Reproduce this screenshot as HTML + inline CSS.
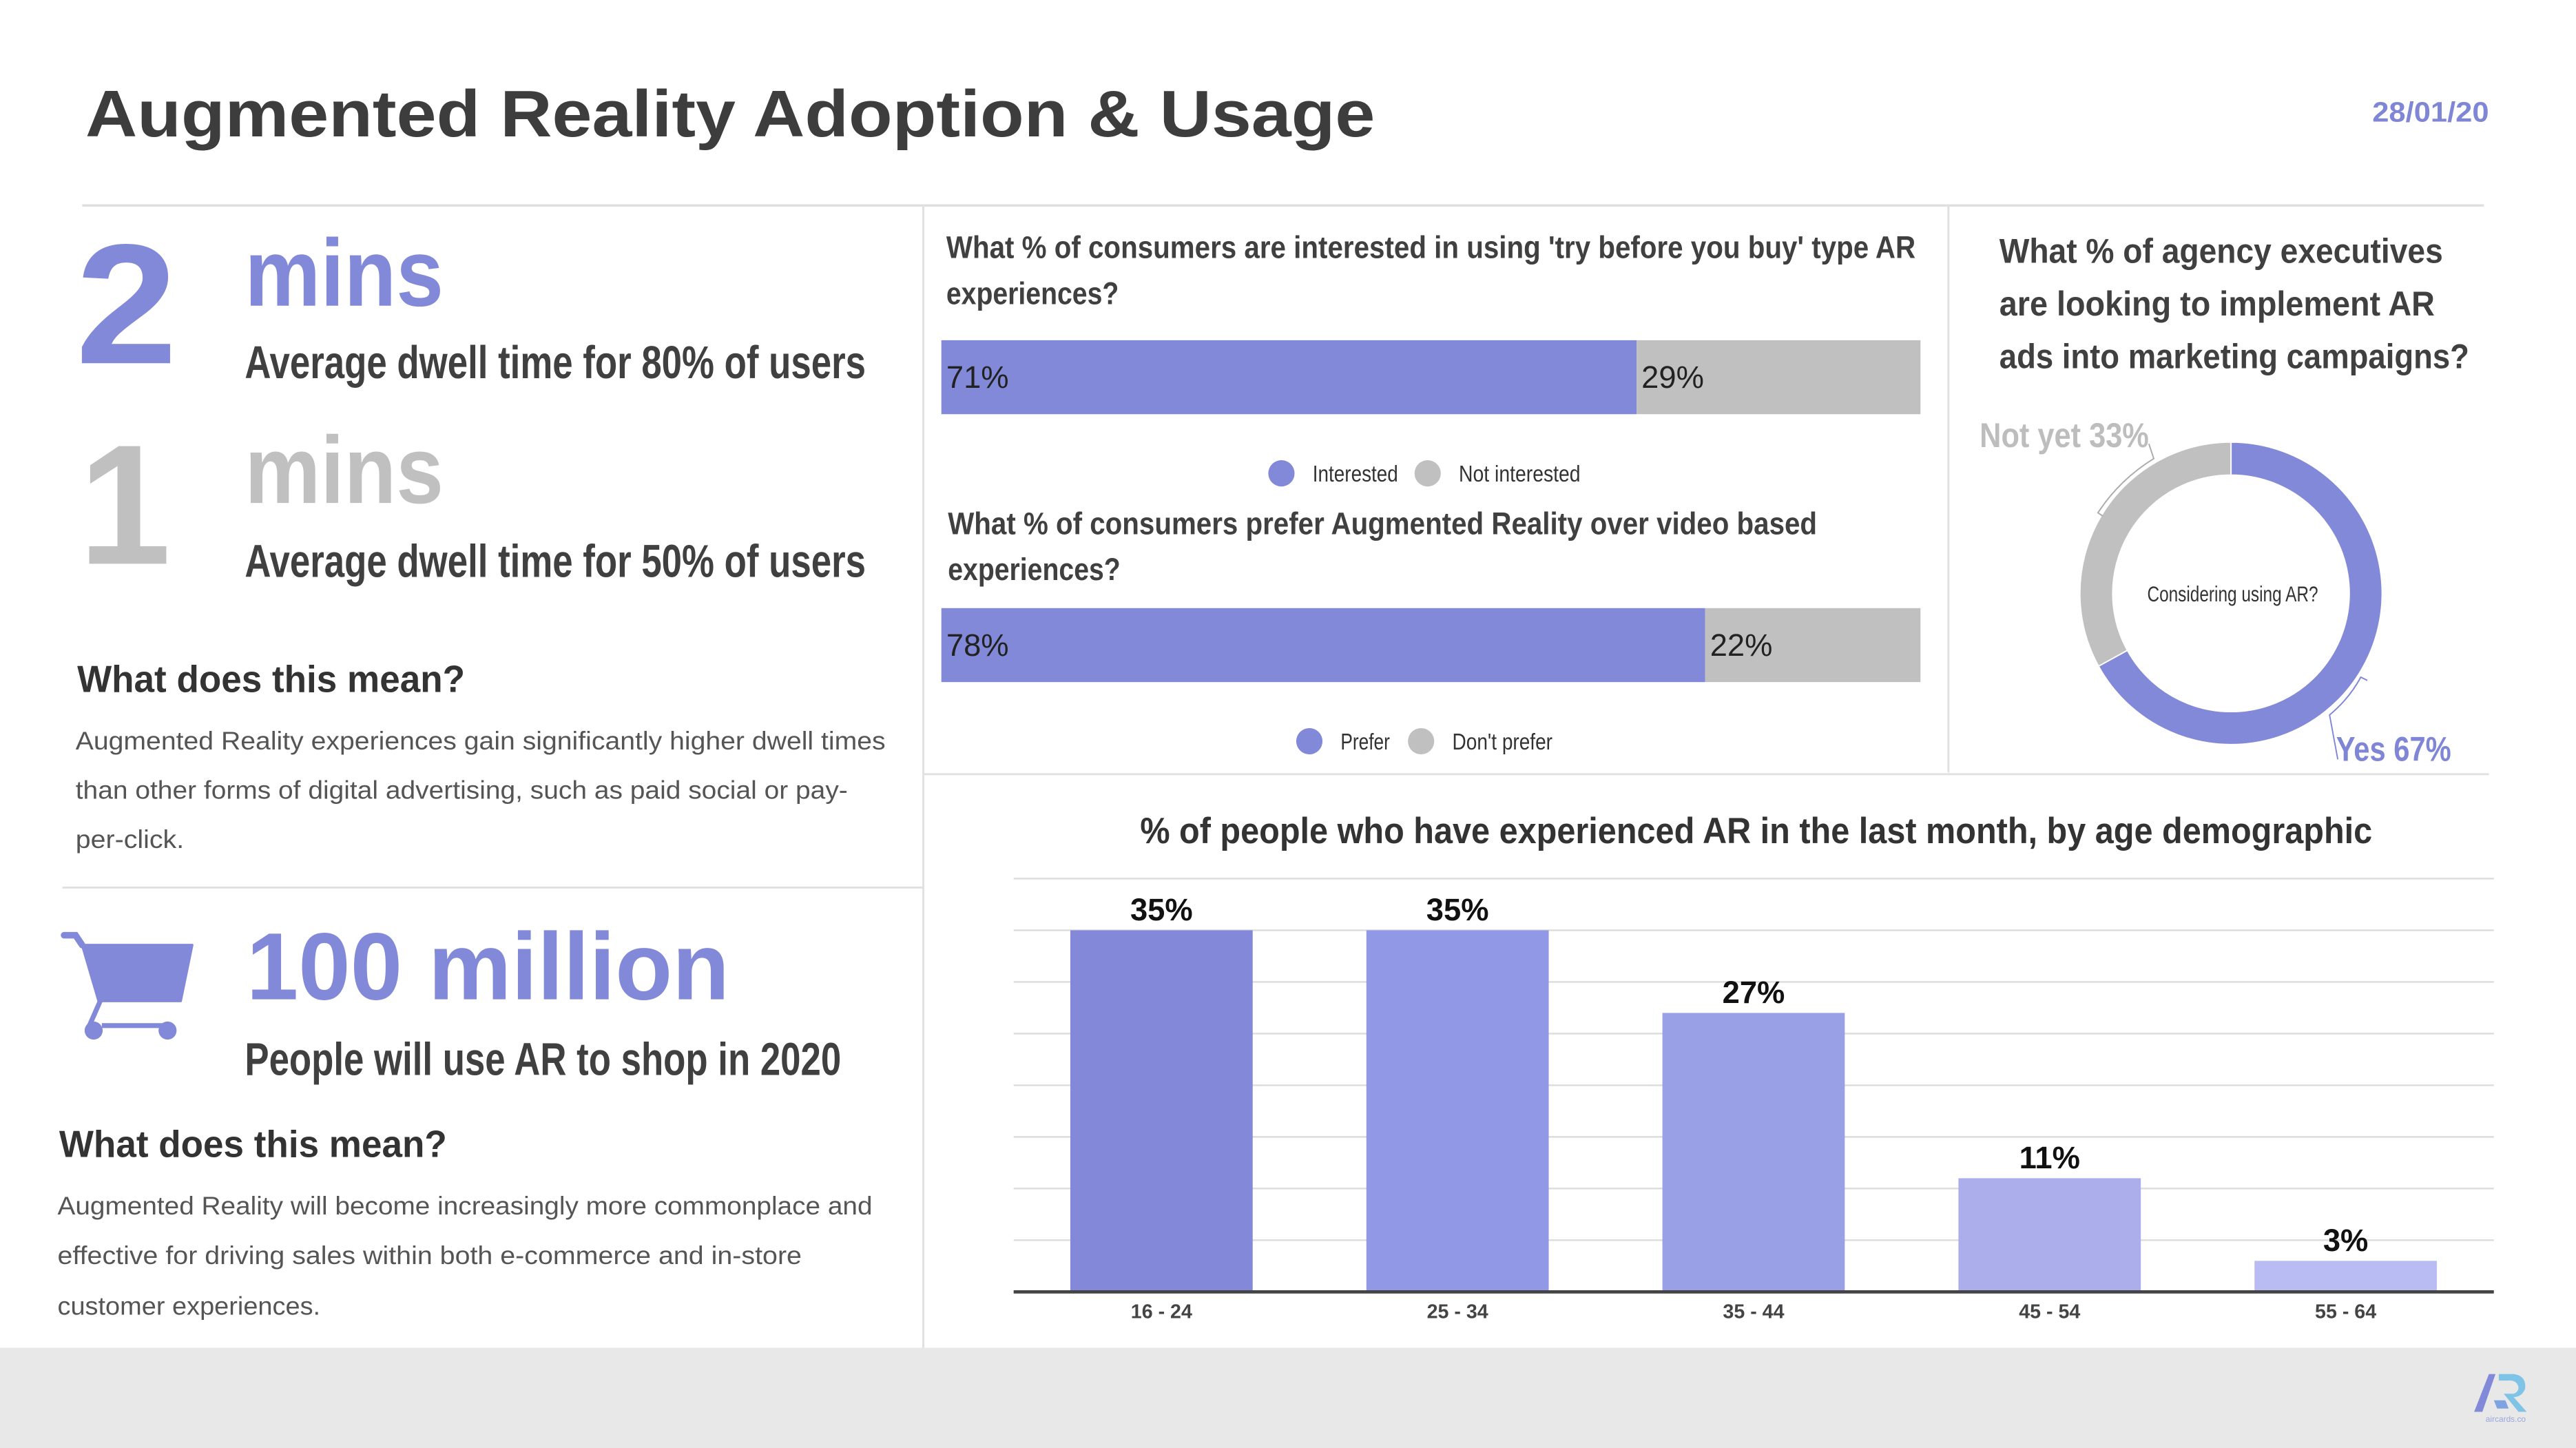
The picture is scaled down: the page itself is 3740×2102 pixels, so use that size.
<!DOCTYPE html>
<html><head><meta charset="utf-8"><style>
html,body{margin:0;padding:0;background:#fff;}
svg{display:block;}
text{font-family:"Liberation Sans Narrow","Liberation Sans",sans-serif;}
</style></head><body>
<svg id="root" width="3740" height="2102" viewBox="0 0 1568 881" preserveAspectRatio="none" xmlns="http://www.w3.org/2000/svg">
<rect x="0" y="0" width="1568" height="881" fill="#fff"/>
<text x="52" y="83" font-size="40" font-weight="bold" fill="#3d3d3d" textLength="785" lengthAdjust="spacingAndGlyphs" style="font-family:'Liberation Sans',sans-serif">Augmented Reality Adoption &amp; Usage</text>
<text x="1444" y="74" font-size="17" font-weight="bold" fill="#7f86d6" textLength="71" lengthAdjust="spacingAndGlyphs" style="font-family:'Liberation Sans',sans-serif">28/01/20</text>
<line x1="50" y1="125" x2="1512" y2="125" stroke="#e0e0e0" stroke-width="1.5"/>
<line x1="562" y1="125" x2="562" y2="820" stroke="#e0e0e0" stroke-width="1.2"/>
<line x1="1186" y1="125" x2="1186" y2="470" stroke="#e0e0e0" stroke-width="1.2"/>
<line x1="562" y1="471" x2="1515" y2="471" stroke="#e0e0e0" stroke-width="1.2"/>
<line x1="38" y1="540" x2="562" y2="540" stroke="#e0e0e0" stroke-width="1.2"/>

<!-- stat 1 -->
<text x="46" y="221" font-size="104" font-weight="bold" fill="#8289d9" textLength="62" lengthAdjust="spacingAndGlyphs">2</text>
<text x="149" y="186" font-size="58" font-weight="bold" fill="#8289d9" textLength="121" lengthAdjust="spacingAndGlyphs">mins</text>
<text x="149" y="230" font-size="28" font-weight="bold" fill="#404040" textLength="378" lengthAdjust="spacingAndGlyphs">Average dwell time for 80% of users</text>
<text x="48" y="343" font-size="104" font-weight="bold" fill="#c0c0c0" textLength="56" lengthAdjust="spacingAndGlyphs">1</text>
<text x="149" y="306" font-size="58" font-weight="bold" fill="#c0c0c0" textLength="121" lengthAdjust="spacingAndGlyphs">mins</text>
<text x="149" y="351" font-size="28" font-weight="bold" fill="#404040" textLength="378" lengthAdjust="spacingAndGlyphs">Average dwell time for 50% of users</text>
<text x="47" y="421" font-size="23" font-weight="bold" fill="#333" textLength="236" lengthAdjust="spacingAndGlyphs" style="font-family:'Liberation Sans',sans-serif">What does this mean?</text>
<g font-size="15.5" fill="#555" style="font-family:'Liberation Sans',sans-serif">
<text x="46" y="456" textLength="493" lengthAdjust="spacingAndGlyphs" style="font-family:'Liberation Sans',sans-serif">Augmented Reality experiences gain significantly higher dwell times</text>
<text x="46" y="486" textLength="470" lengthAdjust="spacingAndGlyphs" style="font-family:'Liberation Sans',sans-serif">than other forms of digital advertising, such as paid social or pay-</text>
<text x="46" y="516" textLength="66" lengthAdjust="spacingAndGlyphs" style="font-family:'Liberation Sans',sans-serif">per-click.</text>
</g>

<!-- cart -->
<g fill="#8289d9" stroke="#8289d9">
<path d="M39 569 L46 569 L50 575" fill="none" stroke-width="4" stroke-linecap="round"/>
<path d="M50 575 L117 575 L110 609 L60 609 Z" stroke-width="1.5" stroke-linejoin="round"/>
<path d="M61 609 L54 625" stroke-width="3"/>
<line x1="62" y1="624" x2="100" y2="624" stroke-width="3"/>
<circle cx="57" cy="627" r="5.5" stroke="none"/>
<circle cx="102" cy="627" r="5.5" stroke="none"/>
</g>
<text x="150" y="608" font-size="58" font-weight="bold" fill="#8289d9" textLength="294" lengthAdjust="spacingAndGlyphs">100 million</text>
<text x="149" y="654" font-size="28" font-weight="bold" fill="#404040" textLength="363" lengthAdjust="spacingAndGlyphs">People will use AR to shop in 2020</text>
<text x="36" y="704" font-size="23" font-weight="bold" fill="#333" textLength="236" lengthAdjust="spacingAndGlyphs" style="font-family:'Liberation Sans',sans-serif">What does this mean?</text>
<g font-size="15.5" fill="#555">
<text x="35" y="739" textLength="496" lengthAdjust="spacingAndGlyphs" style="font-family:'Liberation Sans',sans-serif">Augmented Reality will become increasingly more commonplace and</text>
<text x="35" y="769" textLength="453" lengthAdjust="spacingAndGlyphs" style="font-family:'Liberation Sans',sans-serif">effective for driving sales within both e-commerce and in-store</text>
<text x="35" y="800" textLength="160" lengthAdjust="spacingAndGlyphs" style="font-family:'Liberation Sans',sans-serif">customer experiences.</text>
</g>

<!-- stacked questions -->
<text x="576" y="157" font-size="19" font-weight="bold" fill="#404040" textLength="590" lengthAdjust="spacingAndGlyphs">What % of consumers are interested in using 'try before you buy' type AR</text>
<text x="576" y="185" font-size="19" font-weight="bold" fill="#404040" textLength="105" lengthAdjust="spacingAndGlyphs">experiences?</text>
<g id="stack1"></g>
<g>
<circle cx="780" cy="288" r="8" fill="#8289d9"/>
<text x="799" y="293" font-size="14" fill="#333" textLength="52" lengthAdjust="spacingAndGlyphs">Interested</text>
<circle cx="869" cy="288" r="8" fill="#c0c0c0"/>
<text x="888" y="293" font-size="14" fill="#333" textLength="74" lengthAdjust="spacingAndGlyphs">Not interested</text>
</g>
<text x="577" y="325" font-size="19" font-weight="bold" fill="#404040" textLength="529" lengthAdjust="spacingAndGlyphs">What % of consumers prefer Augmented Reality over video based</text>
<text x="577" y="353" font-size="19" font-weight="bold" fill="#404040" textLength="105" lengthAdjust="spacingAndGlyphs">experiences?</text>
<g id="stack2"></g>
<g>
<circle cx="797" cy="451" r="8" fill="#8289d9"/>
<text x="816" y="456" font-size="14" fill="#333" textLength="30" lengthAdjust="spacingAndGlyphs">Prefer</text>
<circle cx="865" cy="451" r="8" fill="#c0c0c0"/>
<text x="884" y="456" font-size="14" fill="#333" textLength="61" lengthAdjust="spacingAndGlyphs">Don't prefer</text>
</g>

<!-- donut -->
<g font-size="21" font-weight="bold" fill="#404040">
<text x="1217" y="160" textLength="270" lengthAdjust="spacingAndGlyphs">What % of agency executives</text>
<text x="1217" y="192" textLength="265" lengthAdjust="spacingAndGlyphs">are looking to implement AR</text>
<text x="1217" y="224" textLength="286" lengthAdjust="spacingAndGlyphs">ads into marketing campaigns?</text>
</g>
<g id="donut"></g>
<text x="1307" y="366" font-size="13" fill="#333" textLength="104" lengthAdjust="spacingAndGlyphs">Considering using AR?</text>
<text x="1205" y="272" font-size="21" font-weight="bold" fill="#bdbdbd" textLength="103" lengthAdjust="spacingAndGlyphs">Not yet 33%</text>
<text x="1422" y="463" font-size="21" font-weight="bold" fill="#7f86d6" textLength="70" lengthAdjust="spacingAndGlyphs">Yes 67%</text>
<path d="M1308 270 L1311 279 Q1290 292 1277 312 L1280 314" fill="none" stroke="#aaa" stroke-width="0.8"/>
<path d="M1423 462 L1418 435 Q1430 425 1437 412 L1441 414" fill="none" stroke="#7f86d6" stroke-width="0.8"/>

<!-- bar chart -->
<text x="694" y="513" font-size="22" font-weight="bold" fill="#333" textLength="750" lengthAdjust="spacingAndGlyphs">% of people who have experienced AR in the last month, by age demographic</text>
<g id="barchart"></g>

<!-- footer -->
<rect x="0" y="820" width="1568" height="61" fill="#e8e8e8"/>
<g>
<path d="M1506 859 L1515 836 L1519 836 L1511 859 Z" fill="#8289d9"/>
<path d="M1521 836 L1530 836 Q1538 837 1537 845 Q1535 850 1530 850 L1538 859 L1533 859 L1524 848 L1530 848 Q1533 847 1533 844 Q1532 840 1528 840 L1521 840 Z" fill="#7fc3e6"/>
<path d="M1518 852 L1525 852 L1527 857 L1520 857 Z" fill="#7fa3e0"/>
<text x="1513" y="865" font-size="5" fill="#9aa6dc" style="font-family:'Liberation Sans',sans-serif">aircards.co</text>
</g>
</svg>
<script>
var NS = "http://www.w3.org/2000/svg";
// stacked bar data
var stack1Values = [71, 29];
var stack1Labels = ["71%", "29%"];
var stack2Values = [78, 22];
var stack2Labels = ["78%", "22%"];
// donut data
var donutValues = [67, 33];
// age chart data
var ageCategories = ["16 - 24", "25 - 34", "35 - 44", "45 - 54", "55 - 64"];
var ageValues = [35, 35, 27, 11, 3];
var ageLabels = ["35%", "35%", "27%", "11%", "3%"];
var gridTicks = [0, 5, 10, 15, 20, 25, 30, 35, 40];

function mk(tag, attrs, parent) {
  var e = document.createElementNS(NS, tag);
  for (var k in attrs) e.setAttribute(k, attrs[k]);
  parent.appendChild(e);
  return e;
}
var stackColors = ["#8289d9", "#c0c0c0"];
function drawStack(gid, vals, labels, y, h) {
  var g = document.getElementById(gid);
  var x0 = 573, W = 596, tot = vals.reduce(function(a, b){return a + b;}, 0);
  var x = x0;
  for (var i = 0; i < vals.length; i++) {
    var w = vals[i] / tot * W;
    var r = mk("rect", {x: x, y: y, width: w, height: h, fill: stackColors[i]}, g);
    
    
    var t = mk("text", {x: x + 3, y: y + 29, "font-size": 19, fill: "#222"}, g);
    
    
    t.textContent = labels[i];
    x += w;
  }
}
drawStack("stack1", stack1Values, stack1Labels, 207, 45);
drawStack("stack2", stack2Values, stack2Labels, 370, 45);

// donut
(function(){
  var g = document.getElementById("donut");
  var cx = 1358, cy = 361, R = 92, r = 72;
  var cols = ["#8289d9", "#c0c0c0"];
  var tot = donutValues.reduce(function(a, b){return a + b;}, 0);
  var a0 = -Math.PI / 2;
  for (var i = 0; i < donutValues.length; i++) {
    var a1 = a0 + donutValues[i] / tot * 2 * Math.PI;
    var large = (a1 - a0) > Math.PI ? 1 : 0;
    var d = "M" + (cx + R*Math.cos(a0)) + " " + (cy + R*Math.sin(a0)) +
      " A" + R + " " + R + " 0 " + large + " 1 " + (cx + R*Math.cos(a1)) + " " + (cy + R*Math.sin(a1)) +
      " L" + (cx + r*Math.cos(a1)) + " " + (cy + r*Math.sin(a1)) +
      " A" + r + " " + r + " 0 " + large + " 0 " + (cx + r*Math.cos(a0)) + " " + (cy + r*Math.sin(a0)) + " Z";
    var p = mk("path", {d: d, fill: cols[i], stroke: "#fff", "stroke-width": 0.8}, g);
    
    
    a0 = a1;
  }
})();

// age bar chart
(function(){
  var g = document.getElementById("barchart");
  var base = 786, perUnit = 220 / 35;
  function yS(v){ return base - v * perUnit; }
  function xC(i){ return 707 + i * 180.2; }
  var cols = ["#8389d8", "#9198e5", "#99a0e5", "#abaeeb", "#b9bcf2"];
  gridTicks.forEach(function(t){
    if (t === 0) return;
    var l = mk("line", {x1: 617, x2: 1518, y1: yS(t), y2: yS(t), stroke: "#dcdcdc", "stroke-width": 1}, g);
    
    
  });
  for (var i = 0; i < ageValues.length; i++) {
    var bw = 111;
    var b = mk("rect", {x: xC(i) - bw/2, y: yS(ageValues[i]), width: bw, height: base - yS(ageValues[i]), fill: cols[i]}, g);
    
    
    var t = mk("text", {x: xC(i), y: yS(ageValues[i]) - 6, "font-size": 19, "font-weight": "bold", fill: "#111", "text-anchor": "middle"}, g);
    
    
    t.textContent = ageLabels[i];
    var c = mk("text", {x: xC(i), y: 802, "font-size": 12, "font-weight": "bold", fill: "#444", "text-anchor": "middle"}, g);
    
    
    c.textContent = ageCategories[i];
  }
  var ax = mk("line", {x1: 617, x2: 1518, y1: base, y2: base, stroke: "#444", "stroke-width": 2}, g);
  
  
})();
</script>
</body></html>
